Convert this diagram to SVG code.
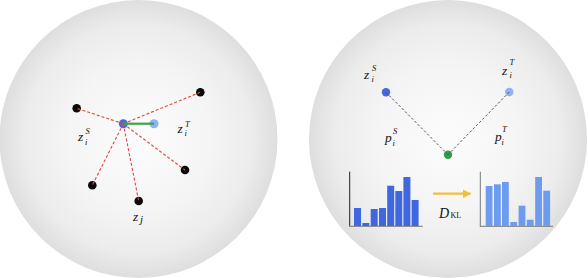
<svg xmlns="http://www.w3.org/2000/svg" width="588" height="278" viewBox="0 0 588 278">
<defs>
<radialGradient id="sph" cx="0.5" cy="0.5" r="0.5">
<stop offset="0" stop-color="#fcfcfc"/>
<stop offset="0.5" stop-color="#f5f5f5"/>
<stop offset="0.82" stop-color="#ececec"/>
<stop offset="1" stop-color="#dedede"/>
</radialGradient>
<marker id="arr" viewBox="0 0 10 10" refX="9" refY="5" markerWidth="4" markerHeight="4" orient="auto">
<path d="M0,0 L10,5 L0,10 z" fill="#f0bf3c"/>
</marker>
</defs>
<style>
.t{font-family:"Liberation Serif","Times New Roman",serif;font-style:italic;fill:#111}
.m{font-size:13.5px}
.s{font-size:8.5px}
.blk{fill:#0a0a0a}
.red{stroke:#e8453c;stroke-width:1.1;stroke-dasharray:3 2;fill:none}
.gry{stroke:#555;stroke-width:1;stroke-dasharray:2.5 2;fill:none}
.dk{fill:#3f68e0}
.lt{fill:#6d9bee}
</style>
<g id="sphere-left"><circle cx="138.5" cy="139" r="139" fill="url(#sph)"/></g>
<g id="sphere-right"><circle cx="448" cy="139" r="139" fill="url(#sph)"/></g>

<g id="left-nodes">
<g id="n-zs-left"><circle cx="123.3" cy="123.7" r="4.5" fill="#4169e1"/></g>
<g id="n-zt-left"><circle cx="154" cy="123.7" r="4.5" fill="#8eb2f4"/></g>
<g id="n-b1"><circle class="blk" cx="76.7" cy="108.3" r="4.3"/></g>
<g id="n-b2"><circle class="blk" cx="200.3" cy="92.3" r="4.3"/></g>
<g id="n-b3"><circle class="blk" cx="92.3" cy="185.3" r="4.3"/></g>
<g id="n-b4"><circle class="blk" cx="138.7" cy="201" r="4.3"/></g>
<g id="n-b5"><circle class="blk" cx="185" cy="170" r="4.3"/></g>
</g>

<g id="right-nodes">
<g id="n-zs-right"><circle cx="386" cy="92.3" r="4.2" fill="#4169e1"/></g>
<g id="n-zt-right"><circle cx="509.3" cy="92" r="4.2" fill="#8eb2f4"/></g>
<g id="n-p"><circle cx="448" cy="154.7" r="4.2" fill="#2e9e48"/></g>
</g>

<g id="connectors">
<line x1="123.3" y1="123.7" x2="76.7" y2="108.3" class="red"/>
<line x1="123.3" y1="123.7" x2="200.3" y2="92.3" class="red"/>
<line x1="123.3" y1="123.7" x2="92.3" y2="185.3" class="red"/>
<line x1="123.3" y1="123.7" x2="138.7" y2="201" class="red"/>
<line x1="123.3" y1="123.7" x2="185" y2="170" class="red"/>
<line x1="124" y1="123.7" x2="154" y2="123.7" stroke="#3aa54a" stroke-width="2.2"/>
<line x1="386" y1="92.3" x2="448" y2="154.7" class="gry"/>
<line x1="509.3" y1="92" x2="448" y2="154.7" class="gry"/>
<line x1="433" y1="193.7" x2="470.5" y2="193.7" stroke="#f0bf3c" stroke-width="2.2" marker-end="url(#arr)"/>
</g>

<g id="hist-left">
<line x1="349.7" y1="171.7" x2="349.7" y2="226.3" stroke="#222" stroke-width="1"/>
<line x1="349.2" y1="226.3" x2="422.7" y2="226.3" stroke="#777" stroke-width="1"/>
<rect class="dk" x="354" y="208" width="7" height="18"/>
<rect class="dk" x="362.3" y="223" width="7" height="3"/>
<rect class="dk" x="370.7" y="209" width="7" height="17"/>
<rect class="dk" x="379" y="208" width="7" height="18"/>
<rect class="dk" x="387.2" y="185.7" width="7" height="40.3"/>
<rect class="dk" x="395.3" y="191" width="7" height="35"/>
<rect class="dk" x="403.4" y="177" width="7" height="49"/>
<rect class="dk" x="411.6" y="200" width="7" height="26"/>
</g>

<g id="hist-right">
<line x1="480.3" y1="171.7" x2="480.3" y2="226.3" stroke="#777" stroke-width="1"/>
<line x1="479.8" y1="226.3" x2="553" y2="226.3" stroke="#777" stroke-width="1"/>
<rect class="lt" x="485.7" y="186" width="6.8" height="40"/>
<rect class="lt" x="494" y="184.3" width="6.8" height="41.7"/>
<rect class="lt" x="502" y="182" width="6.8" height="44"/>
<rect class="lt" x="510.3" y="222" width="6.8" height="4"/>
<rect class="lt" x="518.6" y="205.7" width="6.8" height="20.3"/>
<rect class="lt" x="526.8" y="219.7" width="6.8" height="6.3"/>
<rect class="lt" x="535.2" y="177" width="6.8" height="49"/>
<rect class="lt" x="543.3" y="190.7" width="6.8" height="35.3"/>
</g>

<g id="labels">
<text class="t m" x="78" y="141">z</text><text class="t s" x="85.5" y="133.5">S</text><text class="t s" x="85" y="144.5">i</text>
<text class="t m" x="177.5" y="133">z</text><text class="t s" x="185" y="127">T</text><text class="t s" x="184.5" y="136">i</text>
<text class="t m" x="133" y="221">z</text><text class="t m" x="140" y="222.5" style="font-size:11px">j</text>

<text class="t m" x="364" y="79">z</text><text class="t s" x="372" y="71">S</text><text class="t s" x="371.5" y="82">i</text>
<text class="t m" x="502" y="75">z</text><text class="t s" x="509.5" y="65">T</text><text class="t s" x="509.5" y="78">i</text>
<text class="t m" x="385" y="142">p</text><text class="t s" x="393" y="134">S</text><text class="t s" x="392.5" y="146">i</text>
<text class="t m" x="495" y="141">p</text><text class="t s" x="502" y="132">T</text><text class="t s" x="501.5" y="145">i</text>
<text class="t" x="439" y="217.5" style="font-size:14px">D</text><text x="450.5" y="218.3" style="font-family:'Liberation Serif','Times New Roman',serif;font-size:8px;fill:#111">KL</text>
</g>
</svg>
